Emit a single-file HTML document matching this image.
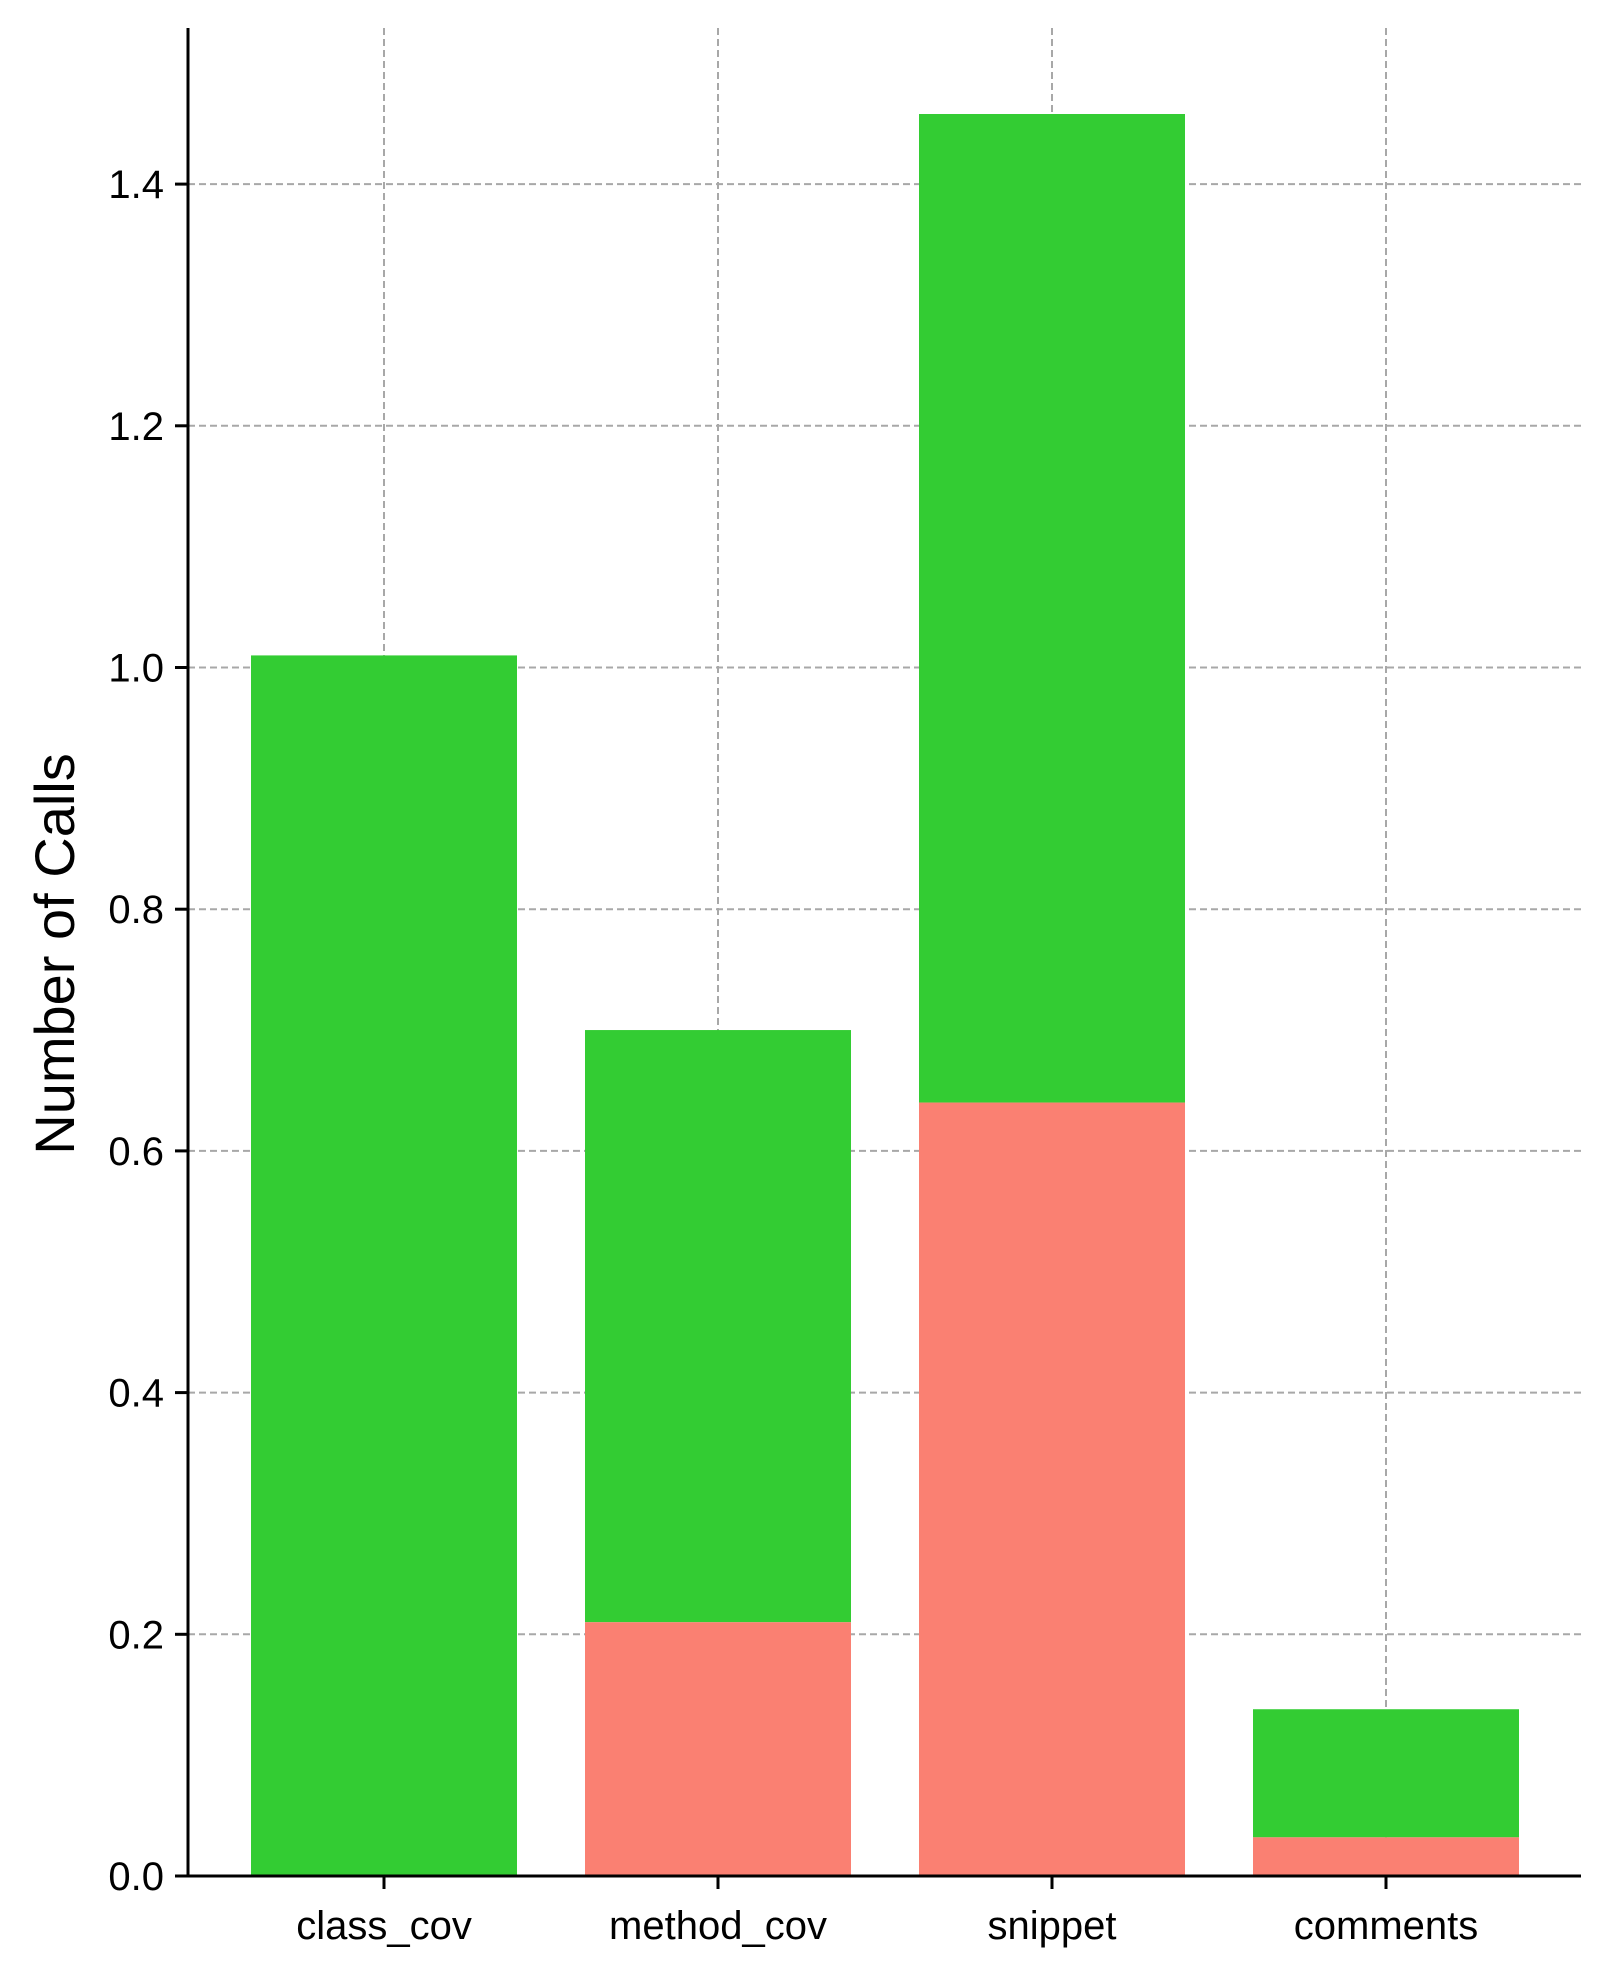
<!DOCTYPE html>
<html><head><meta charset="utf-8"><style>
html,body{margin:0;padding:0;background:#fff;}
svg text{font-family:"Liberation Sans",sans-serif;fill:#000;}
</style></head><body>
<svg id="chart" width="1613" height="1978" viewBox="0 0 1613 1978" xmlns="http://www.w3.org/2000/svg">
<g id="grid"></g>
<g id="bars"></g>
<g id="axes"></g>
<text x="0" y="0" font-size="56" text-anchor="middle" transform="translate(74,954) rotate(-90)">Number of Calls</text>
</svg>
<script>
const categories = ["class_cov","method_cov","snippet","comments"];
const failedValues = [0, 0.21, 0.64, 0.032];
const totalValues = [1.01, 0.70, 1.458, 0.138];
const yTicks = [0, 0.2, 0.4, 0.6, 0.8, 1.0, 1.2, 1.4];
const yTickLabels = ["0.0","0.2","0.4","0.6","0.8","1.0","1.2","1.4"];

const SVGNS = "http://www.w3.org/2000/svg";
const plotLeft = 188, plotRight = 1581, plotTop = 28, baseY = 1876, pxPerUnit = 241.7 / 0.2;
const firstX = 384, stepX = 334, barW = 266;
function yScale(v){ return baseY - v * pxPerUnit; }
function xScale(i){ return firstX + i * stepX; }
function mk(tag, attrs, parent){
  const e = document.createElementNS(SVGNS, tag);
  for (const k in attrs) e.setAttribute(k, attrs[k]);
  parent.appendChild(e);
  return e;
}
const gridG = document.getElementById('grid');
const barsG = document.getElementById('bars');
const axesG = document.getElementById('axes');

yTicks.forEach((t, i) => {
  const y = yScale(t);
  if (t > 0) {
    const g = mk('line', {x1:plotLeft, x2:plotRight, y1:y, y2:y, stroke:'#a8a8a8', 'stroke-width':2, 'stroke-dasharray':'7,4'}, gridG);
    
    
  }
  const tk = mk('line', {x1:plotLeft-13, x2:plotLeft, y1:y, y2:y, stroke:'#000', 'stroke-width':3}, axesG);
  
  
  const lb = mk('text', {x:plotLeft-24, y:y+14, 'font-size':40, 'text-anchor':'end'}, axesG);
  lb.textContent = yTickLabels[i];
  
  
});

categories.forEach((c, i) => {
  const x = xScale(i);
  const g = mk('line', {x1:x, x2:x, y1:plotTop, y2:baseY, stroke:'#a8a8a8', 'stroke-width':2, 'stroke-dasharray':'7,4'}, gridG);
  
  

  const gt = mk('rect', {x:x-barW/2, y:yScale(totalValues[i]), width:barW, height:yScale(failedValues[i]) - yScale(totalValues[i]), fill:'#33cc33'}, barsG);
  
  
  if (failedValues[i] > 0) {
    const rd = mk('rect', {x:x-barW/2, y:yScale(failedValues[i]), width:barW, height:baseY - yScale(failedValues[i]), fill:'#fa8072'}, barsG);
    
    
  }
  const tk = mk('line', {x1:x, x2:x, y1:baseY, y2:baseY+13, stroke:'#000', 'stroke-width':3}, axesG);
  
  
  const lb = mk('text', {x:x, y:baseY+63, 'font-size':40, 'text-anchor':'middle'}, axesG);
  lb.textContent = c;
  
  
});

const ya = mk('line', {x1:plotLeft, x2:plotLeft, y1:plotTop, y2:baseY+1.5, stroke:'#000', 'stroke-width':3}, axesG);


const xa = mk('line', {x1:plotLeft-1.5, x2:plotRight, y1:baseY, y2:baseY, stroke:'#000', 'stroke-width':3}, axesG);


</script>
</body></html>
